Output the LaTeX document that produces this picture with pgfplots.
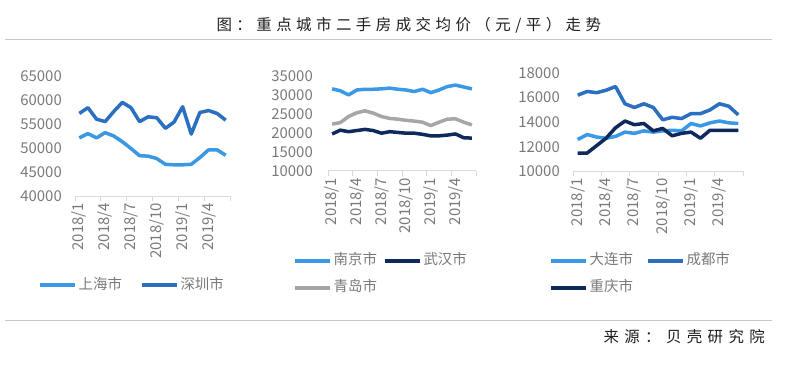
\documentclass[border=0pt]{standalone}
\usepackage{fontspec}
\setmainfont{Noto Sans CJK SC}
\newfontfamily\titlefont[LetterSpace=29]{Noto Sans CJK SC}
\newfontfamily\srcfont[LetterSpace=35]{Noto Sans CJK SC}
\usepackage{pgfplots}
\usepackage{pgfplotstable}
\pgfplotsset{compat=1.18}

\definecolor{cLight}{HTML}{3A98E4}
\definecolor{cMid}{HTML}{2A6FC0}
\definecolor{cNavy}{HTML}{0E2A5C}
\definecolor{cGray}{HTML}{A6A6A6}
\definecolor{tickc}{HTML}{7A7A7A}
\definecolor{axisc}{HTML}{D9D9D9}
\definecolor{rulec}{HTML}{C8C8C8}

\pgfplotstableread{
x sh sz
0.5 52100 57200
1.5 53000 58400
2.5 52100 56000
3.5 53200 55500
4.5 52500 57600
5.5 51300 59500
6.5 49900 58400
7.5 48400 55500
8.5 48300 56500
9.5 47800 56300
10.5 46600 54100
11.5 46500 55400
12.5 46500 58600
13.5 46600 52900
14.5 48000 57400
15.5 49600 57800
16.5 49600 57200
17.5 48500 55800
}\tA

\pgfplotstableread{
x nj wh qd
0.5 31600 19700 22300
1.5 31100 20700 22700
2.5 30000 20300 24300
3.5 31300 20600 25300
4.5 31500 20900 25800
5.5 31500 20600 25200
6.5 31600 19900 24300
7.5 31800 20300 23800
8.5 31500 20100 23600
9.5 31300 19900 23300
10.5 30900 19900 23100
11.5 31500 19600 22800
12.5 30600 19200 21900
13.5 31300 19200 22800
14.5 32200 19400 23600
15.5 32600 19700 23700
16.5 32100 18700 22800
17.5 31600 18600 22100
}\tB

\pgfplotstableread{
x dl cd cq
0.5 12600 16200 11500
1.5 13000 16500 11500
2.5 12800 16400 12100
3.5 12700 16600 12700
4.5 12850 16900 13550
5.5 13200 15500 14100
6.5 13100 15200 13800
7.5 13300 15500 13900
8.5 13200 15200 13300
9.5 13300 14200 13500
10.5 13350 14400 12900
11.5 13300 14300 13100
12.5 13900 14700 13200
13.5 13700 14700 12700
14.5 13950 15000 13350
15.5 14100 15500 13350
16.5 13950 15300 13350
17.5 13900 14600 13350
}\tC

\pgfplotsset{
  panel/.style={
    scale only axis, anchor=south west,
    xmin=0, xmax=18,
    axis x line=bottom, axis y line=left,
    y axis line style={draw=none},
    x axis line style={draw=axisc, line width=0.8bp, -},
    xtick={0.5,3.5,6.5,9.5,12.5,15.5},
    xticklabels={2018/1,2018/4,2018/7,2018/10,2019/1,2019/4},
    major tick length=0pt,
    extra x ticks={0,3,6,9,12,15,18},
    extra x tick labels={},
    extra x tick style={major tick length=5bp, tick align=outside, tick style={draw=axisc, line width=0.8bp}},
    ytick style={draw=none},
    scaled y ticks=false,
    /pgf/number format/.cd, 1000 sep={}, assume math mode=true, /pgfplots/.cd,
    tick label style={font=\fontsize{15}{16}\selectfont, text=tickc},
    xticklabel style={rotate=90, anchor=east, inner sep=0pt},
    yticklabel style={anchor=east, inner sep=0pt},
    xticklabel shift=7bp,
    yticklabel shift=13bp,
    every axis plot/.append style={line width=3.5bp, line join=round, no marks},
    legend columns=2,
    legend cell align=left,
    legend image code/.code={\draw[##1, line width=3.5bp] (0bp,0bp) -- (35bp,0bp);},
    legend style={draw=none, fill=none, inner sep=0pt,
      font=\fontsize{14.5}{15}\selectfont, text=tickc,
      nodes={inner xsep=2bp, inner ysep=0pt, text height=11bp, text depth=3bp},
      row sep=13bp},
  }
}

\begin{document}
\begin{tikzpicture}
\fill[white] (0,0) rectangle (790bp,386bp);
\useasboundingbox (0,0) rectangle (790bp,386bp);

\node[anchor=west, font=\titlefont\fontsize{15.5}{16}\selectfont, text=black!88] at (213bp,360.3bp) {图：重点城市二手房成交均价（元/平）走势};
\draw[rulec, line width=0.8bp] (5bp,347bp) -- (772bp,347bp);
\draw[rulec, line width=0.8bp] (5bp,66bp) -- (772bp,66bp);
\node[anchor=west, font=\srcfont\fontsize{15.5}{16}\selectfont, text=black!88] at (600bp,49bp) {来源：贝壳研究院};

% Panel 1
\begin{axis}[panel,
  at={(75bp,190bp)}, width=155bp, height=120bp,
  ymin=40000, ymax=65000, ytick={40000,45000,50000,55000,60000,65000},
  legend style={at={(-0.2387,-0.7417)}, anchor=west,
    /tikz/every even column/.append style={column sep=16bp}},
]
\addplot[cLight] table[x=x, y=sh] {\tA};
\addlegendentry{上海市}
\addplot[cMid] table[x=x, y=sz] {\tA};
\addlegendentry{深圳市}
\end{axis}

% Panel 2
\begin{axis}[panel,
  at={(328bp,215.3bp)}, width=148bp, height=94.7bp,
  ymin=10000, ymax=35000, ytick={10000,15000,20000,25000,30000,35000},
  yticklabel shift=15bp,
  legend style={at={(-0.2365,-0.876)}, anchor=north west,
    /tikz/every even column/.append style={column sep=4bp}},
]
\addplot[cLight] table[x=x, y=nj] {\tB};
\addlegendentry{南京市}
\addplot[cNavy] table[x=x, y=wh] {\tB};
\addlegendentry{武汉市}
\addplot[cGray] table[x=x, y=qd] {\tB};
\addlegendentry{青岛市}
\end{axis}

% Panel 3
\begin{axis}[panel,
  at={(573bp,214.5bp)}, width=170bp, height=98.5bp,
  ymin=10000, ymax=18000, ytick={10000,12000,14000,16000,18000},
  legend style={at={(-0.141,-0.8345)}, anchor=north west,
    /tikz/every even column/.append style={column sep=11bp}},
]
\addplot[cLight] table[x=x, y=dl] {\tC};
\addlegendentry{大连市}
\addplot[cMid] table[x=x, y=cd] {\tC};
\addlegendentry{成都市}
\addplot[cNavy] table[x=x, y=cq] {\tC};
\addlegendentry{重庆市}
\end{axis}
\end{tikzpicture}
\end{document}
